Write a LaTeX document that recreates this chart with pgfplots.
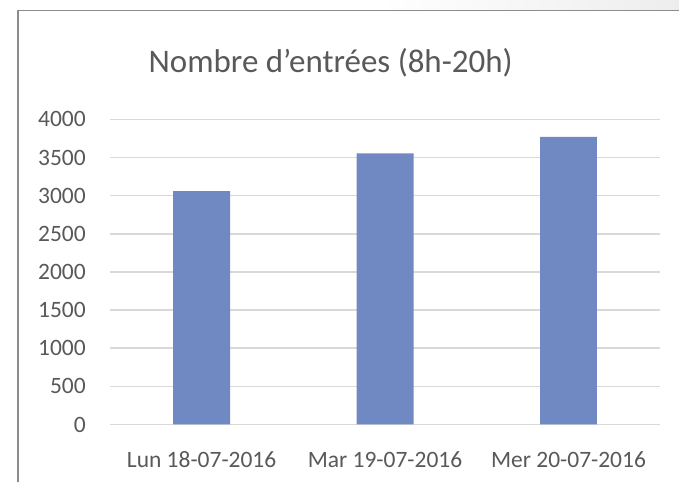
\documentclass[border=0pt]{standalone}
\usepackage{pgfplots}
\pgfplotsset{compat=1.18}
\usepackage{fontspec}
\setmainfont{Carlito}
\definecolor{barblue}{HTML}{7089C2}
\definecolor{txtgrey}{HTML}{595959}
\definecolor{gridgrey}{HTML}{D9D9D9}
\definecolor{framegrey}{HTML}{8C8C8C}
\begin{document}
\begin{tikzpicture}[x=1bp,y=1bp]
\fill[white] (0,0) rectangle (680,483);
\shade[left color=white, right color=black!7] (380,472.5) rectangle (680,483);
\draw[framegrey, line width=1.6bp] (18,0) -- (18,472.5) -- (680,472.5);
\node[anchor=base, text=txtgrey, font=\fontsize{33bp}{38bp}\selectfont, inner sep=0] at (331,410) {Nombre d’entrées (8h-20h)};
\begin{axis}[
  at={(110bp,58bp)}, anchor=south west,
  scale only axis, width=551bp, height=305.5bp,
  xmin=-0.5, xmax=2.5, ymin=0, ymax=4000,
  ytick distance=500,
  xtick={0,1,2},
  xticklabels={Lun 18-07-2016, Mar 19-07-2016, Mer 20-07-2016},
  ymajorgrids, grid style={gridgrey, line width=1.5bp},
  axis line style={draw=none},
  major tick length=0,
  tick label style={text=txtgrey, font=\fontsize{23.5bp}{27bp}\selectfont, inner sep=0},
  yticklabel style={anchor=east, xshift=-24bp},
  xticklabel style={anchor=north, yshift=-27bp},
  /pgf/number format/assume math mode=true,
  /pgf/number format/1000 sep={},
  ybar, bar width=57bp,
  clip=false,
]
\addplot[fill=barblue, draw=none] coordinates {(0,3058) (1,3553) (2,3771)};
\end{axis}
\end{tikzpicture}
\end{document}
